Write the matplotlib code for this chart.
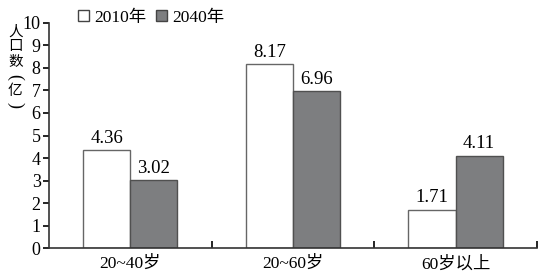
import matplotlib.pyplot as plt
import numpy as np
from matplotlib.patches import Patch

categories = ['20~40岁', '20~60岁', '60岁以上']
years = ['2010年', '2040年']
values_2010 = [4.36, 8.17, 1.71]
values_2040 = [3.02, 6.96, 4.11]
yticks = list(range(0, 11))
ylabel_chars = ['人', '口', '数', '(', '亿', ')']

fonts = ['Liberation Serif', 'Noto Sans CJK SC']
plt.rcParams['font.family'] = fonts


def main():
    fig = plt.figure(figsize=(5.45, 2.76), dpi=100)
    ax = fig.add_axes([0.09, 0.101, 0.895, 0.816])

    x = np.arange(len(categories))
    w = 0.29
    b1 = ax.bar(x - w / 2, values_2010, w, color='white', edgecolor='#666666', linewidth=1.0)
    b2 = ax.bar(x + w / 2, values_2040, w, color='#7d7e80', edgecolor='#505050', linewidth=1.0)

    for bars, vals in [(b1, values_2010), (b2, values_2040)]:
        for r, v in zip(bars, vals):
            ax.text(r.get_x() + r.get_width() / 2, v + 0.15, f'{v:.2f}',
                    ha='center', va='bottom', fontsize=13.5)

    ax.set_xlim(-0.5, 2.5)
    ax.set_ylim(0, 10)
    ax.set_yticks(yticks)
    ax.tick_params(axis='y', labelsize=13, direction='out', length=4, width=1.2, pad=2)

    # category labels under the middle, ticks at the boundaries
    ax.set_xticks([0.5, 1.5, 2.5])
    ax.set_xticklabels([])
    ax.tick_params(axis='x', direction='in', length=5, width=1.2)
    for xi, c in zip(x, categories):
        ax.text(xi, -0.35, c, ha='center', va='top', fontsize=12.5,
                transform=ax.transData)

    for s in ['top', 'right']:
        ax.spines[s].set_visible(False)
    for s in ['bottom', 'left']:
        ax.spines[s].set_linewidth(1.2)
        ax.spines[s].set_color('#333333')

    # vertical stacked y label, brackets turned
    ypos = [0.885, 0.830, 0.775, 0.720, 0.670, 0.618]
    for ch, yp in zip(ylabel_chars, ypos):
        if ch in '()':
            fig.text(0.028, yp, ch, ha='center', va='center',
                     fontsize=13, rotation=-90, family='Liberation Serif')
        else:
            fig.text(0.028, yp, ch, ha='center', va='center', fontsize=10.5)

    handles = [Patch(facecolor='white', edgecolor='#444444'),
               Patch(facecolor='#7d7e80', edgecolor='#444444')]
    fig.legend(handles, years, loc='upper left', bbox_to_anchor=(0.115, 1.02),
               ncol=2, frameon=False, fontsize=12.5, handlelength=0.6,
               handleheight=0.6, handletextpad=0.3, columnspacing=0.6)

    plt.savefig('out.png', dpi=100)


if __name__ == '__main__':
    main()
